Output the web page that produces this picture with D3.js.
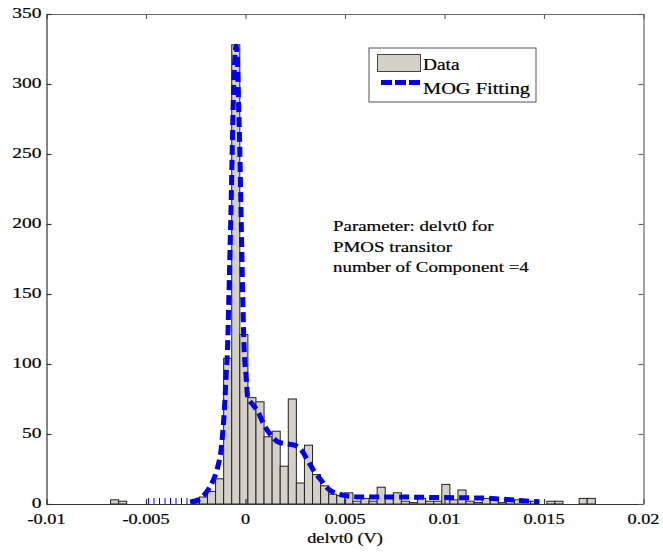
<!DOCTYPE html>
<html>
<head>
<meta charset="utf-8">
<script src="https://cdn.jsdelivr.net/npm/d3@7/dist/d3.min.js"></script>
<style>
  html, body { margin: 0; padding: 0; background: #fff; }
  svg { display: block; }
  text { font-family: "Liberation Serif", "Times New Roman", serif; fill: #000; stroke: #000; stroke-width: 0.2; }
</style>
</head>
<body>
<svg id="chart" width="663" height="552"></svg>
<script>
// ---------- data ----------
const binCenters = [-0.006579, -0.006173, -0.002519, -0.002113, -0.001707, -0.001301, -0.000895, -0.000489,
  -0.000083, 0.000323, 0.000729, 0.001135, 0.001541, 0.001947, 0.002353, 0.002759, 0.003165, 0.003571,
  0.003977, 0.004383, 0.004789, 0.005195, 0.005601, 0.006007, 0.006413, 0.006819, 0.007225, 0.007631,
  0.008037, 0.008443, 0.008849, 0.009255, 0.009661, 0.010067, 0.010473, 0.010879, 0.011285, 0.011691,
  0.012097, 0.012503, 0.012909, 0.013315, 0.013721, 0.014127, 0.014533, 0.015345, 0.015751, 0.016969, 0.017375];
const binCounts = [3, 2, 1, 5, 9, 18, 104, 328,
  121, 76, 73, 48, 52, 27, 75, 15, 42, 21,
  13, 7, 6, 8, 2, 4, 2, 12, 4, 8,
  2, 1, 4, 2, 2, 14, 3, 10, 2, 1,
  4, 3, 1, 2, 3, 2, 2, 2, 2, 4, 4];
const binWidth = 0.000406;

const fitX = [-0.00278, -0.00231, -0.00196, -0.00166, -0.00141, -0.00123, -0.001055, -0.00097, -0.000905,
  -0.000839, -0.000779, -0.000719, -0.000668, -0.000613, -0.000553, -0.000477, -0.000402, -0.000352,
  -0.000286, -0.000236, -0.000186, -0.000136, -0.000065, 0.000025, 0.000116, 0.00037, 0.00062, 0.00095,
  0.00129, 0.00162, 0.00205, 0.00246, 0.0028, 0.00313, 0.00347, 0.0038, 0.00414, 0.00456, 0.00489,
  0.00573, 0.00774, 0.00975, 0.01176, 0.01276, 0.01377, 0.01477];
const fitY = [1.4, 3.5, 8.5, 15.7, 25.7, 38.6, 69, 93, 110,
  146, 181, 217, 253, 289, 314, 327, 316, 289,
  253, 217, 181, 146, 110, 92, 76, 71, 66, 56,
  49, 44.5, 43, 42, 38.6, 31, 23, 17, 11, 7.6, 6.4,
  5, 5, 4.6, 4.3, 3.6, 2.5, 1.6];
// faint low tail of the fit (rendered as thin ticks on the baseline)
const tailX = [-0.0049, -0.0028];
const tailY = [2.2, 2.2];

const xTicks = [-0.01, -0.005, 0, 0.005, 0.01, 0.015, 0.02];
const xTickLabels = ["-0.01", "-0.005", "0", "0.005", "0.01", "0.015", "0.02"];
const yTicks = [0, 50, 100, 150, 200, 250, 300, 350];
const yTickLabels = ["0", "50", "100", "150", "200", "250", "300", "350"];

const xLabel = "delvt0 (V)";
const legendLabels = ["Data", "MOG Fitting"];
const noteLines = ["Parameter: delvt0 for", "PMOS transitor", "number of Component =4"];

// ---------- layout ----------
const svg = d3.select("#chart");
const x = d3.scaleLinear().domain([-0.01, 0.02]).range([46.5, 643.5]);
const y = d3.scaleLinear().domain([0, 350]).range([504, 14]);
const barFill = "#d4d0c8";
const blue = "#0000f0";
const SX = 1.22; // horizontal stretch of the original text

function stext(g, str, px, py, size, anchor, sx) {
  return g.append("text")
    .attr("transform", `translate(${px},${py}) scale(${sx || SX},1)`)
    .attr("font-size", size)
    .attr("text-anchor", anchor || "start")
    .text(str);
}

// plot background
svg.append("rect").attr("x", x.range()[0]).attr("y", y.range()[1])
  .attr("width", x.range()[1] - x.range()[0]).attr("height", y.range()[0] - y.range()[1])
  .attr("fill", "#fff");

// bars
svg.append("g").selectAll("rect").data(binCenters).join("rect")
  .attr("x", d => x(d - binWidth / 2))
  .attr("width", d => x(d + binWidth / 2) - x(d - binWidth / 2))
  .attr("y", (d, i) => y(binCounts[i]))
  .attr("height", (d, i) => y(0) - y(binCounts[i]))
  .attr("fill", barFill)
  .attr("stroke", "#222")
  .attr("stroke-width", 1);

// fit curve
const fitPts = fitX.map((v, i) => [v, fitY[i]]);
const line = d3.line().x(d => x(d[0])).y(d => y(d[1])).curve(d3.curveMonotoneX);
svg.append("path").datum(fitPts).attr("d", line)
  .attr("fill", "none").attr("stroke", blue).attr("stroke-width", 5)
  .attr("stroke-dasharray", "10,5");
const tailPts = tailX.map((v, i) => [v, tailY[i]]);
svg.append("path").datum(tailPts).attr("d", d3.line().x(d => x(d[0])).y(d => y(d[1])))
  .attr("fill", "none").attr("stroke", blue).attr("stroke-width", 6)
  .attr("stroke-dasharray", "1,4.5");

// axes (inward ticks, box)
const tickLen = 5;
const axB = svg.append("g").attr("transform", `translate(0,${y(0)})`)
  .call(d3.axisBottom(x).tickValues(xTicks).tickFormat("").tickSizeInner(-tickLen).tickSizeOuter(0));
const axT = svg.append("g").attr("transform", `translate(0,${y(350)})`)
  .call(d3.axisTop(x).tickValues(xTicks).tickFormat("").tickSizeInner(-tickLen).tickSizeOuter(0));
const axL = svg.append("g").attr("transform", `translate(${x(-0.01)},0)`)
  .call(d3.axisLeft(y).tickValues(yTicks).tickFormat("").tickSizeInner(-tickLen).tickSizeOuter(0));
const axR = svg.append("g").attr("transform", `translate(${x(0.02)},0)`)
  .call(d3.axisRight(y).tickValues(yTicks).tickFormat("").tickSizeInner(-tickLen).tickSizeOuter(0));
[axB, axL].forEach(a => { a.selectAll("path,line").attr("stroke", "#333").attr("stroke-width", 1.2); });
[axT, axR].forEach(a => { a.selectAll("path,line").attr("stroke", "#666").attr("stroke-width", 1.2); });

// tick labels
const labels = svg.append("g");
xTicks.forEach((t, i) => stext(labels, xTickLabels[i], x(t), y(0) + 20, 15, "middle"));
yTicks.forEach((t, i) => stext(labels, yTickLabels[i], x(-0.01) - 5, y(t) + 4, 15, "end", 1.3));

// x axis title
stext(svg, xLabel, (x(-0.01) + x(0.02)) / 2, 543, 15, "middle");

// annotation
const note = svg.append("g");
noteLines.forEach((s, i) => stext(note, s, 333, 231 + i * 20.5, 15.5, "start", 1.22));

// legend
const lg = svg.append("g");
lg.append("rect").attr("x", 369).attr("y", 48).attr("width", 167).attr("height", 54)
  .attr("fill", "#fff").attr("stroke", "#555").attr("stroke-width", 1);
lg.append("rect").attr("x", 377.5).attr("y", 54.5).attr("width", 43).attr("height", 17)
  .attr("fill", barFill).attr("stroke", "#444").attr("stroke-width", 1);
lg.append("line").attr("x1", 381).attr("x2", 421).attr("y1", 82.5).attr("y2", 82.5)
  .attr("stroke", blue).attr("stroke-width", 5).attr("stroke-dasharray", "11,3");
stext(lg, legendLabels[0], 423, 70, 17, "start", 1.14);
stext(lg, legendLabels[1], 423, 94, 17, "start", 1.2);
</script>
</body>
</html>
